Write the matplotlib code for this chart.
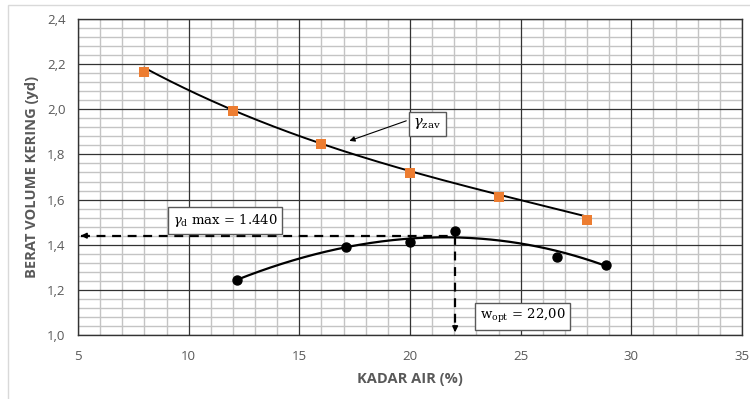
import matplotlib
matplotlib.use("Agg")
import matplotlib.pyplot as plt
import numpy as np
from matplotlib.ticker import MultipleLocator, FuncFormatter
from matplotlib.patches import Rectangle

plt.rcParams["mathtext.fontset"] = "dejavuserif"

# ---- data ----
zav_x = [8, 12, 16, 20, 24, 28]
zav_y = [2.164, 1.992, 1.846, 1.718, 1.610, 1.510]

zav_curve_x = [8, 10, 12, 14, 16, 18, 20, 22, 24, 26, 28]
zav_curve_y = [2.19, 2.075, 1.995, 1.92, 1.85, 1.785, 1.73, 1.672, 1.618, 1.57, 1.528]

comp_x = [12.2, 17.1, 20.0, 22.04, 26.64, 28.84]
comp_y = [1.244, 1.389, 1.413, 1.461, 1.347, 1.309]

comp_curve_x = [12.2, 13, 14, 15, 16, 17, 18, 19, 20, 21, 22, 23, 24, 25, 26, 27, 28, 28.84]
comp_curve_y = [1.244, 1.275, 1.31, 1.342, 1.365, 1.386, 1.402, 1.415, 1.425, 1.432, 1.436,
                1.432, 1.421, 1.405, 1.384, 1.36, 1.334, 1.309]

gd_max = 1.44
w_opt = 22.04

x_ticks = [5, 10, 15, 20, 25, 30, 35]
y_ticks = [1.0, 1.2, 1.4, 1.6, 1.8, 2.0, 2.2, 2.4]

xlabel = "KADAR AIR (%)"
ylabel = "BERAT VOLUME KERING (yd)"

# ---- figure ----
fig = plt.figure(figsize=(7.5, 3.99), dpi=100)
ax = fig.add_axes([78/750, 1 - 335/399, (742-78)/750, (335-19)/399])

fig.patches.append(Rectangle((8/750, -0.1), 2, (394/399) + 0.1, transform=fig.transFigure,
                             fill=False, edgecolor="#d9d9d9", lw=1.0, zorder=0))

ax.set_xlim(5, 35)
ax.set_ylim(1.0, 2.4)
ax.set_xticks(x_ticks)
ax.set_yticks(y_ticks)
ax.xaxis.set_minor_locator(MultipleLocator(1))
ax.yaxis.set_minor_locator(MultipleLocator(0.04))
ax.grid(which="minor", color="#c4c4c4", lw=1.0)
ax.set_axisbelow(True)
for xv in x_ticks:
    ax.axvline(xv, color="#333333", lw=0.9, zorder=1)
for yv in y_ticks:
    ax.axhline(yv, color="#333333", lw=0.9, zorder=1)
ax.tick_params(which="both", length=0)
ax.tick_params(axis="x", pad=11, labelsize=9.5, labelcolor="#595959")
ax.tick_params(axis="y", pad=9, labelsize=9.5, labelcolor="#595959")
ax.yaxis.set_major_formatter(FuncFormatter(lambda v, p: f"{v:.1f}".replace(".", ",")))
for s in ax.spines.values():
    s.set_color("#333333")
    s.set_linewidth(1.0)
for lab in ax.get_xticklabels() + ax.get_yticklabels():
    lab.set_family("Open Sans")

ax.set_xlabel(xlabel, fontsize=10.5, fontweight="bold", color="#595959", family="Open Sans", labelpad=6)
ax.set_ylabel(ylabel, fontsize=10.5, fontweight="bold", color="#595959", family="Open Sans", labelpad=6)

# smooth trendlines through the read curve points
xs = np.linspace(zav_curve_x[0], zav_curve_x[-1], 200)
ax.plot(xs, np.polyval(np.polyfit(zav_curve_x, zav_curve_y, 3), xs), color="black", lw=1.4, zorder=3)
ax.scatter(zav_x, zav_y, marker="s", s=42, color="#ED7D31", zorder=4, linewidths=0)

xc = np.linspace(comp_curve_x[0], comp_curve_x[-1], 200)
ax.plot(xc, np.polyval(np.polyfit(comp_curve_x, comp_curve_y, 3), xc), color="black", lw=1.6, zorder=3)
ax.scatter(comp_x, comp_y, marker="o", s=42, color="black", zorder=4)

# dashed lines with arrows
ax.plot([5.15, w_opt], [gd_max, gd_max], color="black", lw=1.6, ls=(0, (4, 3)), zorder=3)
ax.annotate("", xy=(5.0, gd_max), xytext=(5.6, gd_max),
            arrowprops=dict(arrowstyle="-|>", color="black", lw=1.2, mutation_scale=8), zorder=5)
ax.plot([w_opt, w_opt], [gd_max, 1.02], color="black", lw=1.6, ls=(0, (4, 3)), zorder=3)
ax.annotate("", xy=(w_opt, 1.0), xytext=(w_opt, 1.04),
            arrowprops=dict(arrowstyle="-|>", color="black", lw=1.2, mutation_scale=8), zorder=5)

box = dict(boxstyle="square,pad=0.35", fc="white", ec="#595959", lw=1.0)
ax.text(11.64, 1.507, r"$\gamma_{\rm d}$ max = 1.440", ha="center", va="center", fontsize=9.5,
        family="DejaVu Serif", bbox=box, zorder=6)
ax.text(25.1, 1.082, r"w$_{\rm opt}$ = 22,00", ha="center", va="center", fontsize=9.5,
        family="DejaVu Serif", bbox=box, zorder=6)
ax.text(20.79, 1.935, r"$\gamma_{\rm zav}$", ha="center", va="center", fontsize=10.5,
        family="DejaVu Serif", bbox=dict(boxstyle="square,pad=0.3", fc="white", ec="#595959", lw=1.0), zorder=6)
ax.annotate("", xy=(17.14, 1.856), xytext=(19.95, 1.953),
            arrowprops=dict(arrowstyle="-|>", color="black", lw=0.8, mutation_scale=8), zorder=5)

fig.savefig("out.png", dpi=100)
